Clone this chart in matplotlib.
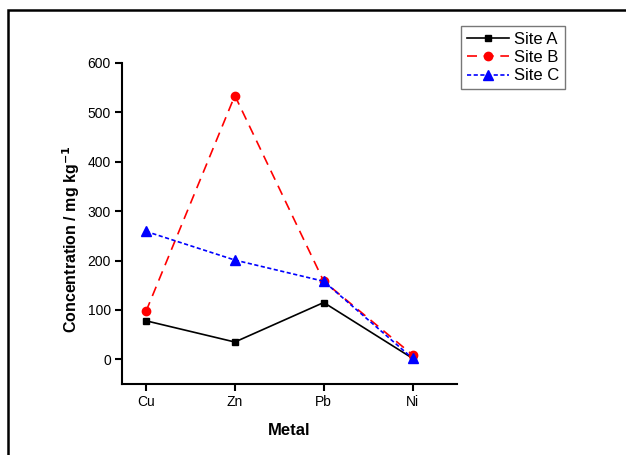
import matplotlib.pyplot as plt
from matplotlib.patches import Rectangle

plt.rcParams['font.family'] = ['Liberation Sans', 'DejaVu Sans']

metals = ["Cu", "Zn", "Pb", "Ni"]
site_a = [78, 35, 115, 2]
site_b = [97, 534, 158, 9]
site_c = [259, 201, 158, 2]

fig = plt.figure(figsize=(6.26, 4.55), dpi=100)
# outer frame, running off the right and bottom edges
fig.patches.append(Rectangle((8 / 626, -0.1), 1.0, (455 - 10) / 455 + 0.1,
                             transform=fig.transFigure, fill=False,
                             edgecolor="black", linewidth=1.8))

ax = fig.add_axes([122 / 626, (455 - 384) / 455, (457 - 122) / 626, (384 - 63) / 455])
x = range(1, len(metals) + 1)
ax.plot(x, site_a, color="black", linestyle="-", marker="s", markersize=5, linewidth=1.2, label="Site A")
ax.plot(x, site_b, color="red", linestyle=(0, (6, 4)), marker="o", markersize=6, linewidth=1.2, label="Site B")
ax.plot(x, site_c, color="blue", linestyle=(0, (2.5, 1.5)), marker="^", markersize=6.5, linewidth=1.2, label="Site C")

ax.set_xlim(0.73, 4.5)
ax.set_ylim(-50, 600)
ax.set_xticks(list(x))
ax.set_xticklabels(metals)
ax.set_yticks(range(0, 601, 100))
ax.spines["top"].set_visible(False)
ax.spines["right"].set_visible(False)
ax.spines["left"].set_linewidth(1.5)
ax.spines["bottom"].set_linewidth(1.5)
ax.tick_params(direction="out", length=5, width=1.5, labelsize=10, pad=3)
ax.set_xlabel("Metal", fontsize=12, fontweight="bold", labelpad=10)
ax.set_ylabel("Concentration / mg kg$^{\\mathbf{-1}}$", fontsize=11.5, fontweight="bold")
ax.yaxis.set_label_coords(-0.12, 0.45)

leg = ax.legend(loc="upper right", bbox_to_anchor=(565 / 626, (455 - 26) / 455),
                bbox_transform=fig.transFigure, borderaxespad=0, fontsize=12, frameon=True,
                fancybox=False, handlelength=2.5, handletextpad=0.3, borderpad=0.35,
                labelspacing=0.2)
leg.get_frame().set_edgecolor("#555555")
leg.get_frame().set_linewidth(1.0)

fig.savefig("out.png", dpi=100)
